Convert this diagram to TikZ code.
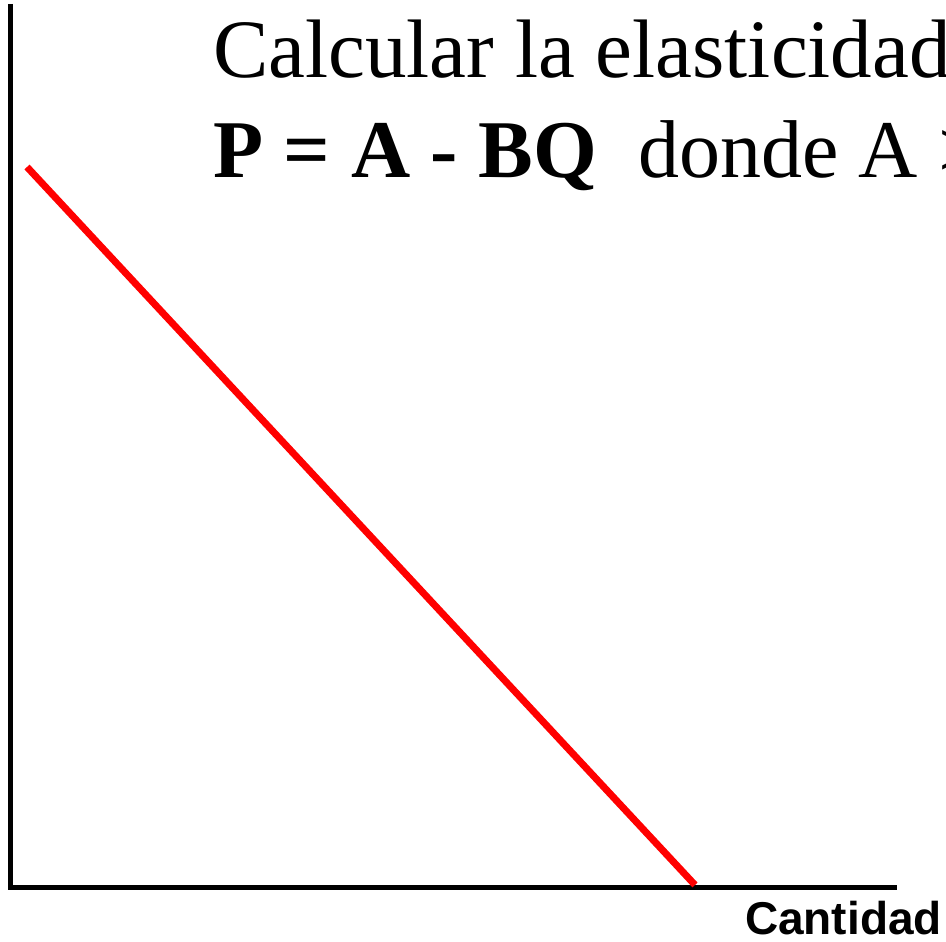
\documentclass[tikz,border=0pt]{standalone}
\usepackage{fontspec}
\setmainfont{Liberation Serif}
\newfontfamily\arialfont{Liberation Sans}
\usetikzlibrary{positioning, calc}

\begin{document}
\begin{tikzpicture}[x=1pt, y=1pt]
		\useasboundingbox (0,0) rectangle (946,942);
		\clip (0,0) rectangle (946,942);
		\coordinate (O) at (10, 54);
		\coordinate (Ytop) at (10, 938);
		\coordinate (Xend) at (897, 54);
		\coordinate (Dtop) at (27, 775);
		\coordinate (Dbot) at (695, 57);
		
		\draw[line width=5pt] (Ytop) -- (O) -- (Xend);
		\draw[line width=7pt, red] (Dtop) -- (Dbot);
		
		\node[anchor=base west, inner sep=0pt, font=\fontsize{83}{100}\selectfont] (titulo) at (213, 864) {Calcular la elasticidad};
		\node[anchor=base west, inner sep=0pt, font=\fontsize{82}{100}\selectfont] (ecuacion) at (213, 764) {\textbf{P = A - BQ}\ \ donde A >};
		\node[anchor=base east, inner sep=0pt, font=\arialfont\bfseries\fontsize{46}{54}\selectfont] (cantidad) at (942, 7) {Cantidad};
\end{tikzpicture}
\end{document}
